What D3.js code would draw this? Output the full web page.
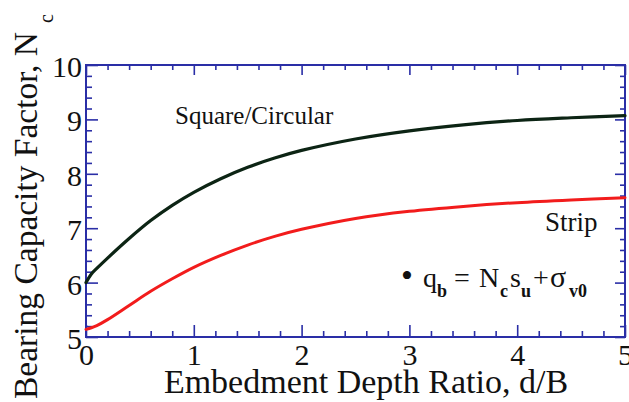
<!DOCTYPE html>
<html>
<head>
<meta charset="utf-8">
<script src="https://cdn.jsdelivr.net/npm/d3@7/dist/d3.min.js"></script>
<style>
  html, body { margin: 0; padding: 0; background: #ffffff; }
  svg { display: block; }
  text { font-family: "Liberation Serif", "Times New Roman", Times, serif; fill: #111111; }
</style>
</head>
<body>
<svg id="chart" width="629" height="402"></svg>
<script>
// Embedment depth ratio d/B (x) and bearing capacity factor Nc (y)
const depthRatio   = [0, 0.05, 0.1, 0.2, 0.4, 0.6, 0.8, 1.0, 1.25, 1.5, 1.75, 2.0, 2.5, 3.0, 3.5, 4.0, 4.5, 5.0];
const ncSquare     = [6.00, 6.16, 6.26, 6.45, 6.81, 7.14, 7.42, 7.66, 7.91, 8.12, 8.29, 8.43, 8.64, 8.79, 8.90, 8.98, 9.03, 9.07];
const ncStrip      = [5.14, 5.17, 5.21, 5.32, 5.58, 5.84, 6.07, 6.28, 6.50, 6.69, 6.85, 6.98, 7.18, 7.31, 7.40, 7.47, 7.52, 7.56];
const xTickLabels  = [0, 1, 2, 3, 4, 5];
const yTickLabels  = [5, 6, 7, 8, 9, 10];
const seriesNames  = ["Square/Circular", "Strip"];

const svg = d3.select("#chart");
const plotLeft = 86, plotRight = 625, plotTop = 65, plotBottom = 337;
const axisColor = "#2a2ea6";

const x = d3.scaleLinear().domain([0, 5]).range([plotLeft, plotRight]);
const y = d3.scaleLinear().domain([5, 10]).range([plotBottom, plotTop]);

const minorX = d3.range(0, 5.0001, 0.2).filter(v => Math.abs(v - Math.round(v)) > 1e-6);
const minorY = d3.range(5, 10.0001, 0.2).filter(v => Math.abs(v - Math.round(v)) > 1e-6);

const majorLen = 12, minorLen = 6;

function styleAxis(g) {
  g.select(".domain").remove();
  g.selectAll(".tick line").attr("stroke", axisColor).attr("stroke-width", 1.6);
}

// Bottom axis with labels
const gb = svg.append("g").attr("transform", `translate(0,${plotBottom})`)
  .call(d3.axisBottom(x).tickValues(xTickLabels).tickFormat(d3.format("d"))
        .tickSizeInner(-majorLen).tickSizeOuter(0).tickPadding(7));
styleAxis(gb);
gb.selectAll(".tick text").attr("font-size", 30).attr("fill", "#111")
  .style("font-family", "Liberation Serif");
svg.append("g").attr("transform", `translate(0,${plotBottom})`)
  .call(d3.axisBottom(x).tickValues(minorX).tickFormat("").tickSizeInner(-minorLen).tickSizeOuter(0))
  .call(styleAxis);

// Top axis (ticks only)
svg.append("g").attr("transform", `translate(0,${plotTop})`)
  .call(d3.axisTop(x).tickValues(xTickLabels).tickFormat("").tickSizeInner(-majorLen + 2).tickSizeOuter(0))
  .call(styleAxis);
svg.append("g").attr("transform", `translate(0,${plotTop})`)
  .call(d3.axisTop(x).tickValues(minorX).tickFormat("").tickSizeInner(-minorLen + 1).tickSizeOuter(0))
  .call(styleAxis);

// Left axis with labels
const gl = svg.append("g").attr("transform", `translate(${plotLeft},0)`)
  .call(d3.axisLeft(y).tickValues(yTickLabels).tickFormat(d3.format("d"))
        .tickSizeInner(-majorLen).tickSizeOuter(0).tickPadding(4));
styleAxis(gl);
gl.selectAll(".tick text").attr("font-size", 30).attr("fill", "#111").attr("dy", "0.38em")
  .style("font-family", "Liberation Serif");
svg.append("g").attr("transform", `translate(${plotLeft},0)`)
  .call(d3.axisLeft(y).tickValues(minorY).tickFormat("").tickSizeInner(-minorLen).tickSizeOuter(0))
  .call(styleAxis);

// Right axis (ticks only)
svg.append("g").attr("transform", `translate(${plotRight},0)`)
  .call(d3.axisRight(y).tickValues(yTickLabels).tickFormat("").tickSizeInner(-majorLen + 2).tickSizeOuter(0))
  .call(styleAxis);
svg.append("g").attr("transform", `translate(${plotRight},0)`)
  .call(d3.axisRight(y).tickValues(minorY).tickFormat("").tickSizeInner(-minorLen + 1).tickSizeOuter(0))
  .call(styleAxis);

// Frame
svg.append("rect")
  .attr("x", plotLeft).attr("y", plotTop)
  .attr("width", plotRight - plotLeft).attr("height", plotBottom - plotTop)
  .attr("fill", "none").attr("stroke", axisColor).attr("stroke-width", 2);

// Curves
const line = d3.line().x(d => x(d[0])).y(d => y(d[1])).curve(d3.curveCatmullRom.alpha(0.5));
const squarePts = depthRatio.map((d, i) => [d, ncSquare[i]]);
const stripPts  = depthRatio.map((d, i) => [d, ncStrip[i]]);

svg.append("path").datum(stripPts).attr("d", line)
  .attr("fill", "none").attr("stroke", "#f21c1c").attr("stroke-width", 3)
  .attr("stroke-linejoin", "round").attr("stroke-linecap", "round");
svg.append("path").datum(squarePts).attr("d", line)
  .attr("fill", "none").attr("stroke", "#0c2414").attr("stroke-width", 3.2)
  .attr("stroke-linejoin", "round").attr("stroke-linecap", "round");

// Series labels
svg.append("text").attr("x", 175).attr("y", 124).attr("font-size", 25).text(seriesNames[0]);
svg.append("text").attr("x", 545).attr("y", 231).attr("font-size", 27).text(seriesNames[1]);

// Equation: q_b = N_c s_u + σ_v0
const eq = svg.append("g");
eq.append("text").attr("x", 401).attr("y", 287).attr("font-size", 34).text("•");
const parts = [
  { t: "q",  x: 423, y: 287, s: 28 },
  { t: "b",  x: 437, y: 297, s: 18, w: "bold" },
  { t: "=",  x: 454, y: 287, s: 28 },
  { t: "N",  x: 479, y: 287, s: 28 },
  { t: "c",  x: 500, y: 297, s: 18, w: "bold" },
  { t: "s",  x: 510, y: 287, s: 28 },
  { t: "u",  x: 521, y: 297, s: 18, w: "bold" },
  { t: "+",  x: 533, y: 287, s: 28 },
  { t: "σ",  x: 550, y: 287, s: 30 },
  { t: "v0", x: 569, y: 297, s: 18, w: "bold" }
];
eq.selectAll("text.p").data(parts).join("text").attr("class", "p")
  .attr("x", d => d.x).attr("y", d => d.y)
  .attr("font-size", d => d.s).attr("font-weight", d => d.w || "normal")
  .text(d => d.t);

// Axis titles
svg.append("text").attr("x", 366).attr("y", 393).attr("text-anchor", "middle")
  .attr("font-size", 34).text("Embedment Depth Ratio, d/B");

const yt = svg.append("text").attr("transform", "translate(37,399) rotate(-90)")
  .attr("font-size", 33.5);
yt.append("tspan").text("Bearing Capacity Factor, N");
yt.append("tspan").attr("font-size", 20).attr("dx", 9).attr("dy", 16).text("c");
</script>
</body>
</html>
